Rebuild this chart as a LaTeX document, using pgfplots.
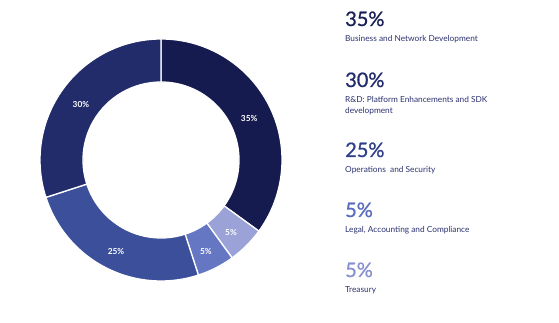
\documentclass[border=0pt]{standalone}
\usepackage{pgfplots}
\pgfplotsset{compat=1.18}
\usepackage{pgfplotstable}
\usepackage{fontspec}
\setmainfont{Lato}
\newfontfamily\bigf{Lato}[FakeBold=0.9]
\definecolor{c1}{HTML}{151A4F}
\definecolor{c2}{HTML}{222C6B}
\definecolor{c3}{HTML}{3C4F9B}
\definecolor{c4}{HTML}{6577C2}
\definecolor{c5}{HTML}{9AA2D8}
\definecolor{t1}{HTML}{1B2157}
\definecolor{t2}{HTML}{222C6B}
\definecolor{t3}{HTML}{2F3F8A}
\definecolor{t4}{HTML}{5A6BBF}
\definecolor{t5}{HTML}{8891CF}
\definecolor{desc}{HTML}{2B3270}
\newcommand\lblfont{\fontsize{8.3}{9}\selectfont\bfseries}
\newcommand\bigfont{\bigf\fontsize{20}{22}\selectfont}
\newcommand\descfont{\fontsize{8.3}{10}\selectfont}
\pgfplotstableread{
value color
35 c1
5 c5
5 c4
25 c3
30 c2
}\datatable
\begin{document}
\begin{tikzpicture}
\useasboundingbox (0,0) rectangle (559pt,323pt);
\begin{axis}[hide axis, x=1pt, y=1pt, xmin=-130, xmax=130, ymin=-130, ymax=130,
  anchor=center, at={(161pt,163pt)}, clip=false]
\def\startang{90}
\pgfplotsforeachungrouped \i in {0,...,4} {
  \pgfplotstablegetelem{\i}{value}\of\datatable \let\v\pgfplotsretval
  \pgfplotstablegetelem{\i}{color}\of\datatable \let\col\pgfplotsretval
  \pgfmathsetmacro\endang{\startang-\v*3.6}
  \pgfmathsetmacro\midang{(\startang+\endang)/2}
  \pgfmathsetmacro\ox{121*cos(\startang)}
  \pgfmathsetmacro\oy{121*sin(\startang)}
  \pgfmathsetmacro\ix{78*cos(\endang)}
  \pgfmathsetmacro\iy{78*sin(\endang)}
  \pgfmathsetmacro\lx{99*cos(\midang)}
  \pgfmathsetmacro\ly{99*sin(\midang)-3}
  \edef\cmd{\noexpand\fill[\col, draw=white, line width=1.3pt] (axis cs:\ox,\oy) arc[start angle=\startang, end angle=\endang, radius=121pt] -- (axis cs:\ix,\iy) arc[start angle=\endang, end angle=\startang, radius=78pt] -- cycle;
  \noexpand\node[white, font=\noexpand\lblfont] at (axis cs:\lx,\ly) {\v\noexpand\%};}
  \cmd
  \global\let\startang\endang
}
\end{axis}
\begin{scope}[every node/.style={anchor=base west, inner sep=0pt}]
\node[t1, font=\bigfont] at (345pt,297pt) {35\%};
\node[desc, font=\descfont] at (345pt,281pt) {Business and Network Development};
\node[t2, font=\bigfont] at (345pt,236pt) {30\%};
\node[desc, font=\descfont] at (345pt,220pt) {R\&D: Platform Enhancements and SDK};
\node[desc, font=\descfont] at (345pt,209.5pt) {development};
\node[t3, font=\bigfont] at (345pt,166pt) {25\%};
\node[desc, font=\descfont] at (345pt,150pt) {Operations\ \ and Security};
\node[t4, font=\bigfont] at (345pt,106pt) {5\%};
\node[desc, font=\descfont] at (345pt,90pt) {Legal, Accounting and Compliance};
\node[t5, font=\bigfont] at (345pt,46pt) {5\%};
\node[desc, font=\descfont] at (345pt,30pt) {Treasury};
\end{scope}
\end{tikzpicture}
\end{document}
